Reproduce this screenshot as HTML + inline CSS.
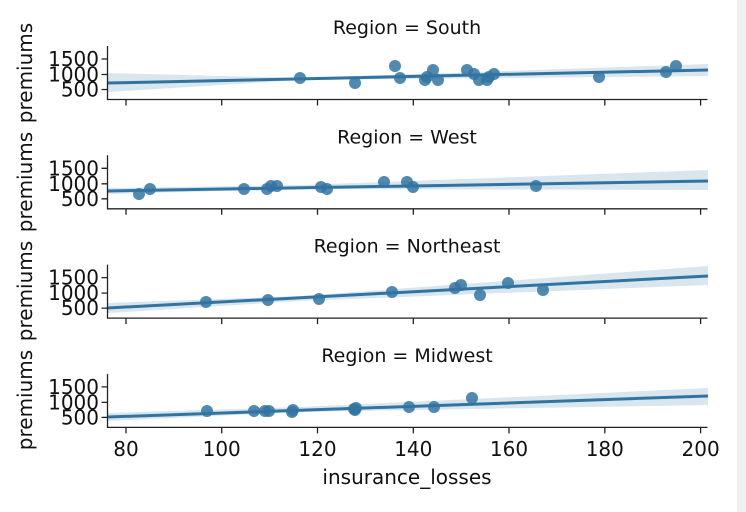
<!DOCTYPE html>
<html><head><meta charset="utf-8"><style>body{margin:0;background:#fff}svg{display:block}text{font-family:"DejaVu Sans","Liberation Sans",sans-serif;fill:#111}</style></head><body>
<svg width="746" height="512" viewBox="0 0 746 512">
<rect x="737" y="0" width="9" height="512" fill="#f0f0f0"/>
<text x="407" y="34" font-size="19" text-anchor="middle">Region = South</text>
<polygon points="108,73 300,78 708,64 708,76 300,80 108,92" fill="#3274a1" opacity="0.18"/>
<line x1="108" y1="83" x2="708" y2="70" stroke="#3274a1" stroke-width="3"/>
<g fill="#3274a1" fill-opacity="0.85"><circle cx="300" cy="78" r="6"/><circle cx="355" cy="83" r="6"/><circle cx="395" cy="66" r="6"/><circle cx="400" cy="78" r="6"/><circle cx="425" cy="80" r="6"/><circle cx="427" cy="77" r="6"/><circle cx="433" cy="70" r="6"/><circle cx="438" cy="80" r="6"/><circle cx="467" cy="70" r="6"/><circle cx="474" cy="74" r="6"/><circle cx="479" cy="80" r="6"/><circle cx="487" cy="80" r="6"/><circle cx="489" cy="77" r="6"/><circle cx="494" cy="74" r="6"/><circle cx="599" cy="77" r="6"/><circle cx="666" cy="72" r="6"/><circle cx="676" cy="66" r="6"/></g>
<text x="407" y="143.3" font-size="19" text-anchor="middle">Region = West</text>
<polygon points="108,188 300,185 708,170 708,190 300,189 108,194" fill="#3274a1" opacity="0.18"/>
<line x1="108" y1="191" x2="708" y2="181" stroke="#3274a1" stroke-width="3"/>
<g fill="#3274a1" fill-opacity="0.85"><circle cx="139" cy="194" r="6"/><circle cx="150" cy="189" r="6"/><circle cx="244" cy="189" r="6"/><circle cx="267" cy="189" r="6"/><circle cx="271" cy="186" r="6"/><circle cx="277" cy="186" r="6"/><circle cx="321" cy="187" r="6"/><circle cx="327" cy="189" r="6"/><circle cx="384" cy="182" r="6"/><circle cx="407" cy="182" r="6"/><circle cx="413" cy="187" r="6"/><circle cx="536" cy="186" r="6"/></g>
<text x="407" y="252.6" font-size="19" text-anchor="middle">Region = Northeast</text>
<polygon points="108,303 300,296 708,266 708,285 300,301 108,313" fill="#3274a1" opacity="0.18"/>
<line x1="108" y1="308" x2="708" y2="276" stroke="#3274a1" stroke-width="3"/>
<g fill="#3274a1" fill-opacity="0.85"><circle cx="206" cy="302" r="6"/><circle cx="268" cy="300" r="6"/><circle cx="319" cy="299" r="6"/><circle cx="392" cy="292" r="6"/><circle cx="455" cy="288" r="6"/><circle cx="461" cy="285" r="6"/><circle cx="480" cy="295" r="6"/><circle cx="508" cy="283" r="6"/><circle cx="543" cy="290" r="6"/></g>
<text x="407" y="362" font-size="19" text-anchor="middle">Region = Midwest</text>
<polygon points="108,413 300,407 708,388 708,405 300,412 108,421" fill="#3274a1" opacity="0.18"/>
<line x1="108" y1="417" x2="708" y2="396" stroke="#3274a1" stroke-width="3"/>
<g fill="#3274a1" fill-opacity="0.85"><circle cx="207" cy="411" r="6"/><circle cx="254" cy="411" r="6"/><circle cx="265" cy="411" r="6"/><circle cx="269" cy="411" r="6"/><circle cx="292" cy="412" r="6"/><circle cx="293" cy="410" r="6"/><circle cx="354" cy="409" r="6"/><circle cx="355" cy="410" r="6"/><circle cx="356" cy="408" r="6"/><circle cx="409" cy="407" r="6"/><circle cx="434" cy="407" r="6"/><circle cx="472" cy="398" r="6"/></g>
<g stroke="#222" stroke-width="1.3" fill="none">
<path d="M107.5,46V99.5H707.5M107.5,155.3V208.8H707.5M107.5,264.6V318.1H707.5M107.5,373.9V427.4H707.5"/>
<path d="M126,99.5v6M221.7,99.5v6M317.5,99.5v6M413.3,99.5v6M509,99.5v6M604.8,99.5v6M700.6,99.5v6
M126,208.8v6M221.7,208.8v6M317.5,208.8v6M413.3,208.8v6M509,208.8v6M604.8,208.8v6M700.6,208.8v6
M126,318.1v6M221.7,318.1v6M317.5,318.1v6M413.3,318.1v6M509,318.1v6M604.8,318.1v6M700.6,318.1v6
M126,427.4v6M221.7,427.4v6M317.5,427.4v6M413.3,427.4v6M509,427.4v6M604.8,427.4v6M700.6,427.4v6"/>
<path d="M101.5,59h6M101.5,74.5h6M101.5,89.5h6M101.5,168.3h6M101.5,183.8h6M101.5,198.8h6M101.5,277.6h6M101.5,293.1h6M101.5,308.1h6M101.5,386.9h6M101.5,402.4h6M101.5,417.4h6"/>
</g>
<g font-size="20" text-anchor="end">
<text x="99" y="66">1500</text><text x="99" y="81.5">1000</text><text x="99" y="96.5">500</text>
<text x="99" y="175.3">1500</text><text x="99" y="190.8">1000</text><text x="99" y="205.8">500</text>
<text x="99" y="284.6">1500</text><text x="99" y="300.1">1000</text><text x="99" y="315.1">500</text>
<text x="99" y="393.9">1500</text><text x="99" y="409.4">1000</text><text x="99" y="424.4">500</text>
</g>
<g font-size="20" text-anchor="middle">
<text x="126" y="456">80</text><text x="221.7" y="456">100</text><text x="317.5" y="456">120</text><text x="413.3" y="456">140</text><text x="509" y="456">160</text><text x="604.8" y="456">180</text><text x="700.6" y="456">200</text>
<text x="407" y="484">insurance_losses</text>
</g>
<g font-size="20" text-anchor="middle">
<text transform="translate(32,73) rotate(-90)">premiums</text>
<text transform="translate(32,182) rotate(-90)">premiums</text>
<text transform="translate(32,291) rotate(-90)">premiums</text>
<text transform="translate(32,400) rotate(-90)">premiums</text>
</g>
</svg>
</body></html>
